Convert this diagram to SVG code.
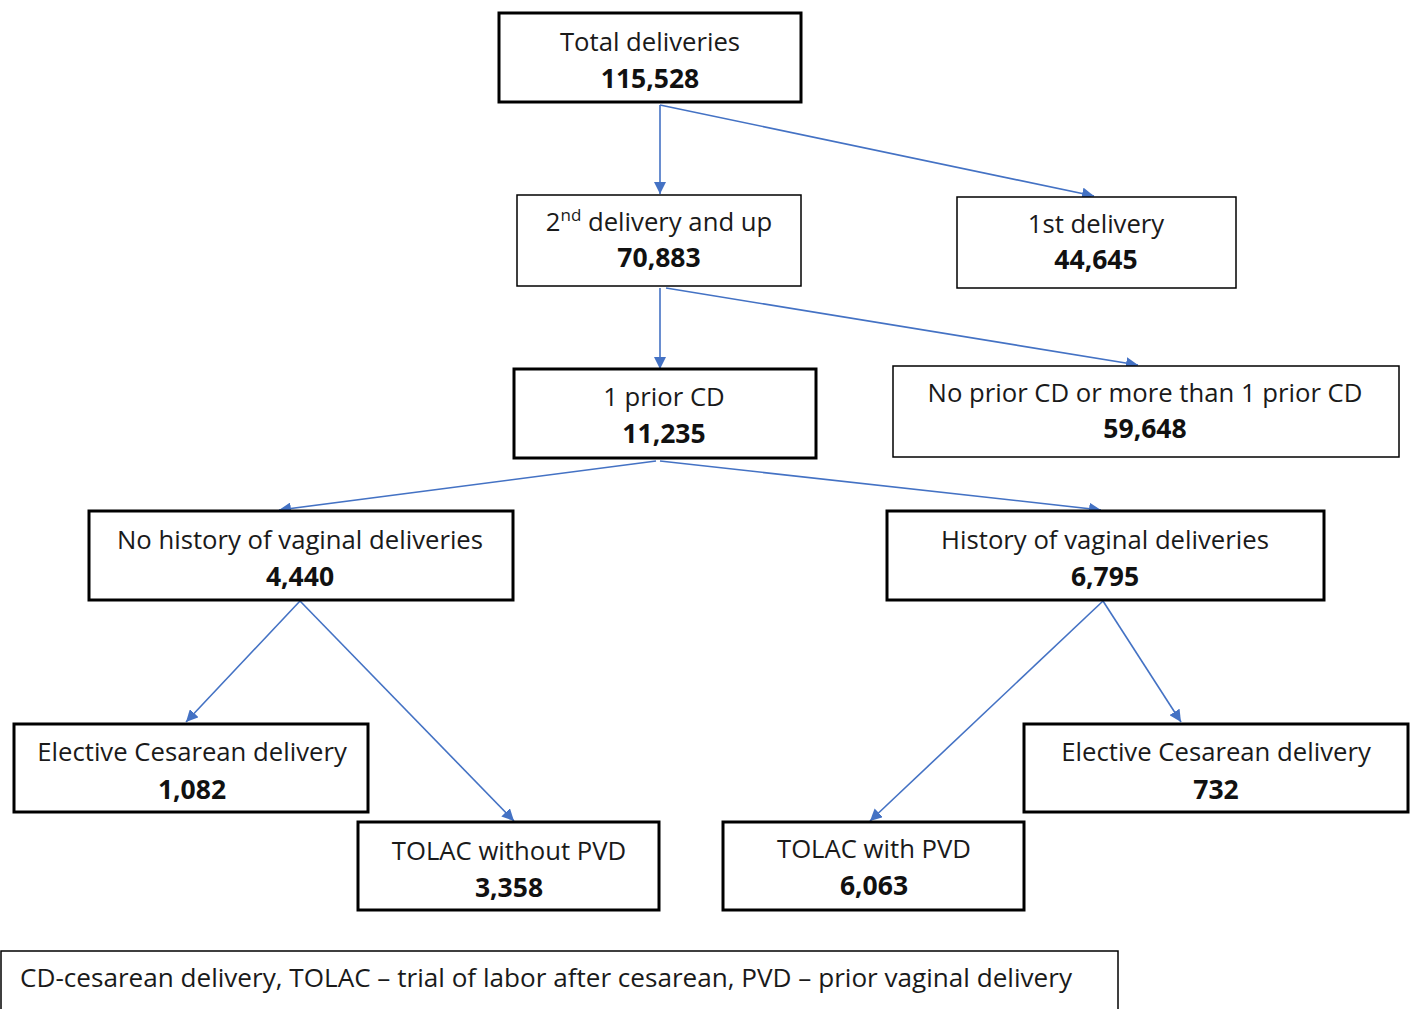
<svg xmlns="http://www.w3.org/2000/svg" width="1413" height="1009" viewBox="0 0 1413 1009">
<defs>
<style>
.bx{fill:#fff;stroke:#000;}
.thick{stroke-width:3;}
.thin{stroke-width:1.5;}
.t{font-family:"Open Sans","Liberation Sans",sans-serif;font-size:25.7px;fill:#1a1a1a;text-anchor:middle;}
.n{font-family:"Open Sans","Liberation Sans",sans-serif;font-size:26.5px;font-weight:bold;fill:#111;text-anchor:middle;}
.c{stroke:#4472C4;stroke-width:1.6;fill:none;marker-end:url(#ah);}
</style>
<marker id="ah" markerUnits="userSpaceOnUse" markerWidth="14" markerHeight="12" refX="12" refY="6" orient="auto">
<path d="M0,0 L12,6 L0,12 Z" fill="#4472C4"/>
</marker>
</defs>
<rect width="1413" height="1009" fill="#fff"/>
<g id="connectors">
<line class="c" x1="660" y1="105" x2="660" y2="194"/>
<line class="c" x1="660" y1="105" x2="1094" y2="196"/>
<line class="c" x1="660" y1="288" x2="660" y2="369"/>
<line class="c" x1="666" y1="288" x2="1138" y2="365"/>
<line class="c" x1="656" y1="461" x2="279" y2="510"/>
<line class="c" x1="660" y1="461" x2="1101" y2="510"/>
<line class="c" x1="300" y1="601" x2="186" y2="722"/>
<line class="c" x1="300" y1="601" x2="514" y2="821"/>
<line class="c" x1="1103" y1="601" x2="870" y2="821"/>
<line class="c" x1="1103" y1="601" x2="1181" y2="722"/>
</g>
<g id="n-total">
<rect class="bx thick" x="499" y="13" width="302" height="89"/>
<text class="t" x="650" y="51">Total deliveries</text>
<text class="n" x="650" y="88">115,528</text>
</g>
<g id="n-second">
<rect class="bx thin" x="517" y="195" width="284" height="91"/>
<text class="t" x="659" y="231">2<tspan font-size="17" dy="-10">nd</tspan><tspan dy="10"> delivery and up</tspan></text>
<text class="n" x="659" y="267">70,883</text>
</g>
<g id="n-first">
<rect class="bx thin" x="957" y="197" width="279" height="91"/>
<text class="t" x="1096" y="233">1st delivery</text>
<text class="n" x="1096" y="269">44,645</text>
</g>
<g id="n-oneprior">
<rect class="bx thick" x="514" y="369" width="302" height="89"/>
<text class="t" x="664" y="406">1 prior CD</text>
<text class="n" x="664" y="443">11,235</text>
</g>
<g id="n-noprior">
<rect class="bx thin" x="893" y="366" width="506" height="91"/>
<text class="t" x="1145" y="402">No prior CD or more than 1 prior CD</text>
<text class="n" x="1145" y="438">59,648</text>
</g>
<g id="n-nohist">
<rect class="bx thick" x="89" y="511" width="424" height="89"/>
<text class="t" x="300" y="549">No history of vaginal deliveries</text>
<text class="n" x="300" y="586">4,440</text>
</g>
<g id="n-hist">
<rect class="bx thick" x="887" y="511" width="437" height="89"/>
<text class="t" x="1105" y="549">History of vaginal deliveries</text>
<text class="n" x="1105" y="586">6,795</text>
</g>
<g id="n-elective-left">
<rect class="bx thick" x="14" y="724" width="354" height="88"/>
<text class="t" x="192" y="761">Elective Cesarean delivery</text>
<text class="n" x="192" y="799">1,082</text>
</g>
<g id="n-tolac-without">
<rect class="bx thick" x="358" y="822" width="301" height="88"/>
<text class="t" x="509" y="860">TOLAC without PVD</text>
<text class="n" x="509" y="897">3,358</text>
</g>
<g id="n-tolac-with">
<rect class="bx thick" x="723" y="822" width="301" height="88"/>
<text class="t" x="874" y="858">TOLAC with PVD</text>
<text class="n" x="874" y="895">6,063</text>
</g>
<g id="n-elective-right">
<rect class="bx thick" x="1024" y="724" width="384" height="88"/>
<text class="t" x="1216" y="761">Elective Cesarean delivery</text>
<text class="n" x="1216" y="799">732</text>
</g>
<g id="legend">
<rect class="bx thin" x="1" y="951" width="1117" height="70"/>
<text class="t" x="20" y="987" style="text-anchor:start" textLength="1052" lengthAdjust="spacingAndGlyphs">CD-cesarean delivery, TOLAC – trial of labor after cesarean, PVD – prior vaginal delivery</text>
</g>
</svg>
